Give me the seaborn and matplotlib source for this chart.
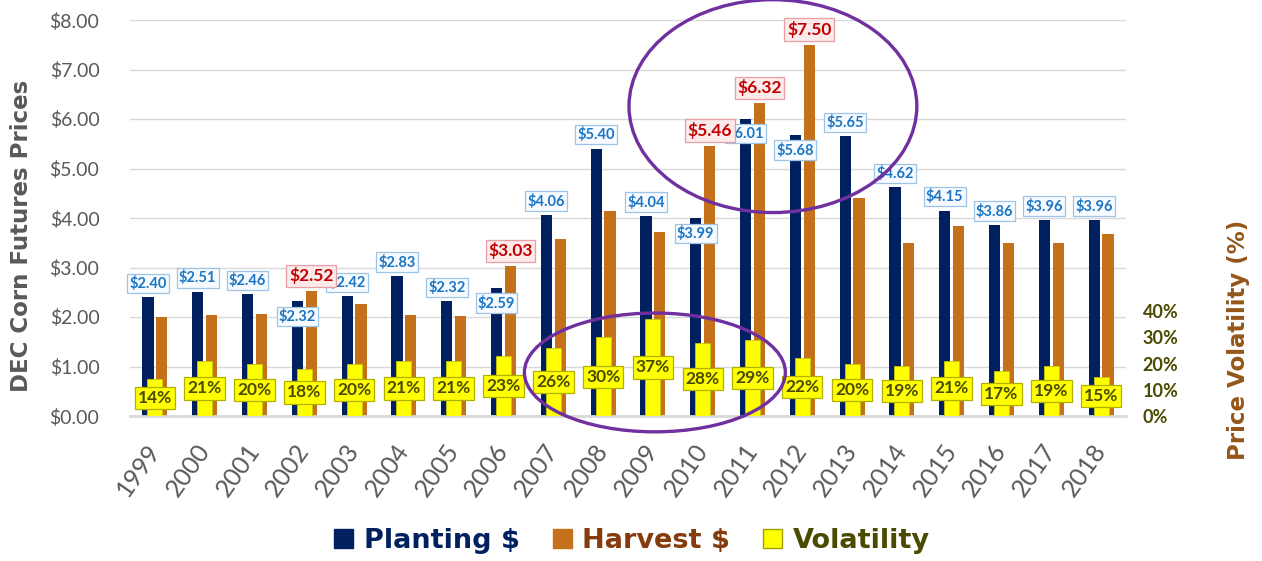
import matplotlib
matplotlib.use("Agg")
import matplotlib.pyplot as plt
from matplotlib.patches import Ellipse, Patch
import seaborn as sns
import pandas as pd

# =========================
# data
# =========================
years = [str(y) for y in range(1999, 2019)]
planting = [2.40, 2.51, 2.46, 2.32, 2.42, 2.83, 2.32, 2.59, 4.06, 5.40,
            4.04, 3.99, 6.01, 5.68, 5.65, 4.62, 4.15, 3.86, 3.96, 3.96]
harvest = [2.01, 2.04, 2.07, 2.52, 2.26, 2.05, 2.02, 3.03, 3.58, 4.14,
           3.72, 5.46, 6.32, 7.50, 4.40, 3.49, 3.83, 3.49, 3.49, 3.68]
volatility = [14, 21, 20, 18, 20, 21, 21, 23, 26, 30,
              37, 28, 29, 22, 20, 19, 21, 17, 19, 15]
price_ticks = [0, 1, 2, 3, 4, 5, 6, 7, 8]
vol_ticks = [0, 10, 20, 30, 40]

# colours
NAVY = "#002060"
ORANGE = "#C5701A"
YELLOW = "#FFFF00"
GREY = "#595959"
OLIVE = "#4A4A00"
BROWN = "#94561A"
PURPLE = "#7030A0"

sns.set_theme(style="white")
plt.rcParams["font.family"] = ["Lato", "DejaVu Sans"]

W, H = 1262, 561
fig = plt.figure(figsize=(W / 100, H / 100), dpi=100)
ax = fig.add_axes([130 / W, 145 / H, 996 / W, 396 / H])

price_df = pd.DataFrame({
    "year": years * 2,
    "price": planting + harvest,
    "series": ["Planting $"] * len(years) + ["Harvest $"] * len(years),
})
sns.barplot(data=price_df, x="year", y="price", hue="series",
            palette=[NAVY, ORANGE], width=0.56, gap=0.2, saturation=1,
            legend=False, linewidth=0, ax=ax)

ax.set_xlim(-0.5, len(years) - 0.5)
ax.set_ylim(0, 8)
ax.set_yticks(price_ticks)
ax.set_yticklabels([f"${v:.2f}" for v in price_ticks], fontsize=14, color=GREY)
ax.set_xticks(range(len(years)))
ax.set_xticklabels(years, rotation=55, ha="right", va="center",
                   rotation_mode="anchor", fontsize=18, color=GREY)
ax.tick_params(axis="both", length=0)
ax.tick_params(axis="y", pad=22)
ax.tick_params(axis="x", pad=22)
ax.set_xlabel("")
ax.set_ylabel("")
ax.yaxis.grid(True, color="#D9D9D9", linewidth=1)
ax.set_axisbelow(True)
for s in ["top", "left", "right"]:
    ax.spines[s].set_visible(False)
ax.spines["bottom"].set_color("#D9D9D9")
ax.spines["bottom"].set_linewidth(2)

# 波动率 -> 右轴
ax2 = ax.twinx()
sns.barplot(x=years, y=volatility, color=YELLOW, width=0.3, saturation=1,
            edgecolor="#C8C800", linewidth=0.6, ax=ax2)
ax2.set_ylim(0, 150.9)
ax2.set_xlim(-0.5, len(years) - 0.5)
ax2.set_yticks(vol_ticks)
ax2.set_yticklabels([f"{v}%" for v in vol_ticks], fontsize=13,
                    fontweight="bold", color=OLIVE)
ax2.tick_params(axis="y", length=0, pad=12)
ax2.set_ylabel("")
ax2.grid(False)
for s in ax2.spines.values():
    s.set_visible(False)

# =========================
# data labels
# =========================
p_bars = ax.containers[0]
h_bars = ax.containers[1]
for bp, bh, p, h in zip(p_bars, h_bars, planting, harvest):
    crossed = h > p
    ax.annotate(f"${p:.2f}", xy=(bp.get_x() + bp.get_width() / 2, p),
                xytext=(0, -11 if crossed else 10), textcoords="offset points",
                ha="center", va="center", fontsize=10.5, fontweight="bold",
                color="#1A75C4", zorder=6,
                bbox=dict(boxstyle="square,pad=0.15", fc="#F7FBFF",
                          ec="#9DC3E6", lw=0.9))
    if crossed:
        ax.annotate(f"${h:.2f}", xy=(bh.get_x() + bh.get_width() / 2, h),
                    xytext=(0, 11), textcoords="offset points",
                    ha="center", va="center", fontsize=12.5, fontweight="bold",
                    color="#C00000", zorder=7,
                    bbox=dict(boxstyle="square,pad=0.15", fc="#FDEAEA",
                              ec="#E6A0A5", lw=0.9))

for bv, v in zip(ax2.containers[0], volatility):
    ax2.annotate(f"{v}%", xy=(bv.get_x() + bv.get_width() / 2, v / 2),
                 ha="center", va="center", fontsize=12.5, fontweight="bold",
                 color=OLIVE, zorder=6,
                 bbox=dict(boxstyle="square,pad=0.18", fc=YELLOW,
                           ec="#B0B000", lw=0.9))

# 圈注
for cx, cy, ew, eh in [(12.41, 6.26, 5.78, 4.30), (10.04, 0.88, 5.24, 2.40)]:
    ell = Ellipse((cx, cy), ew, eh, transform=ax.transData, fill=False,
                  ec=PURPLE, lw=2.4, clip_on=False, zorder=10)
    ax2.add_patch(ell)

# axis titles
fig.text(22 / W, 1 - 236 / H, "DEC Corn Futures Prices", rotation=90,
         ha="center", va="center", fontsize=16.5, fontweight="bold",
         color=GREY, family=["DejaVu Sans"])
fig.text(1238 / W, 1 - 340 / H, "Price Volatility (%)", rotation=90,
         ha="center", va="center", fontsize=16.5, fontweight="bold",
         color=BROWN, family=["DejaVu Sans"])

# legend
handles = [Patch(fc=NAVY, ec=NAVY), Patch(fc=ORANGE, ec=ORANGE),
           Patch(fc=YELLOW, ec="#A0A000")]
leg = fig.legend(handles, ["Planting $", "Harvest $", "Volatility"],
                 loc="center", bbox_to_anchor=(632 / W, 20 / H), ncol=3,
                 frameon=False, prop=dict(family="DejaVu Sans", weight="bold", size=19.5),
                 handlelength=0.7, handleheight=0.7, handletextpad=0.4,
                 columnspacing=1.2)
for txt, c in zip(leg.get_texts(), [NAVY, "#843C0C", OLIVE]):
    txt.set_color(c)

fig.savefig("out.png", dpi=100)
